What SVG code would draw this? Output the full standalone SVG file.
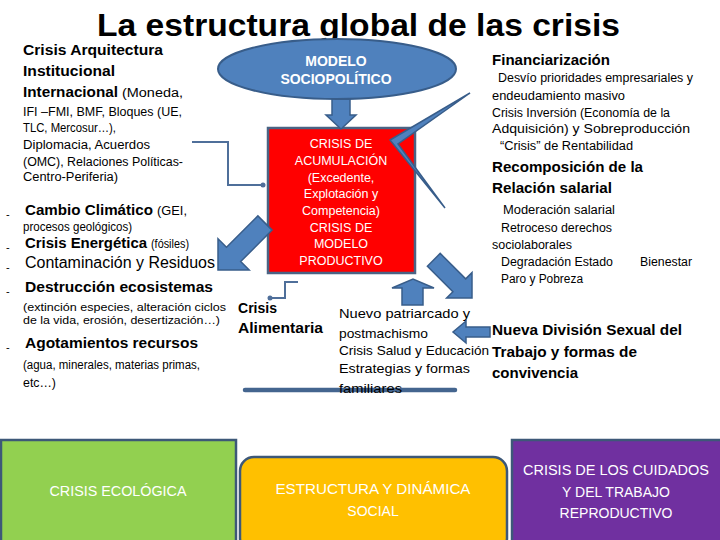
<svg xmlns="http://www.w3.org/2000/svg" width="720" height="540" viewBox="0 0 720 540">
<style>
text{font-family:"Liberation Sans",Arial,sans-serif;fill:#000}
.b{font-weight:bold}
.w{fill:#fff}
.s12{font-size:12px}
.s11{font-size:11px}
.s14{font-size:14px}
.s15{font-size:15px}
.blk{fill:#4f81bd;stroke:#385d8a;stroke-width:1.5}
.elb{fill:none;stroke:#4f6f9a;stroke-width:2}
.box{stroke:#3d5878;stroke-width:2.5}
</style>
<rect width="720" height="540" fill="#fff"/>
<g id="title">
<text x="97" y="36" class="b" font-size="31" textLength="523" lengthAdjust="spacingAndGlyphs">La estructura global de las crisis</text>
</g>
<g id="red-box">
<rect x="268" y="128" width="147" height="145" fill="#ff0000" stroke="#4a6384" stroke-width="2.5"/>
<g font-size="12.5" text-anchor="middle">
<text x="341" y="147.5" class="w">CRISIS DE</text>
<text x="341" y="164.5" class="w">ACUMULACIÓN</text>
<text x="341" y="181.5" class="w">(Excedente,</text>
<text x="341" y="197.5" class="w">Explotación y</text>
<text x="341" y="214.5" class="w">Competencia)</text>
<text x="341" y="231.5" class="w">CRISIS DE</text>
<text x="341" y="247.5" class="w">MODELO</text>
<text x="341" y="264.5" class="w">PRODUCTIVO</text>
</g>
</g>
<g id="connectors">
<polygon class="blk" points="332,96 350,96 350,115 356,115 341,129 326,115 332,115"/>
<polygon class="blk" points="257.9,215.9 226.5,247.3 218,238.8 218,270 249.2,270 240.7,261.5 272.1,230.1"/>
<polygon class="blk" points="470,93 390,140 445,208 398,144"/>
<polygon class="blk" points="427.4,266.2 452.9,291.7 446.6,298 472,298 472,272.6 465.7,278.9 440.2,253.4"/>
<polygon class="blk" points="402,305 402,288 392,288 413,279 434,288 423,288 423,305"/>
<polygon class="blk" points="490,327 466,327 466,321 453,332 466,343 466,337 490,337"/>
<path class="elb" d="M192,142 H228 V185 H262"/>
<circle cx="263" cy="185" r="2.5" fill="#4f6f9a"/>
<path class="elb" d="M298,282 H285 V298 H271"/>
<circle cx="270" cy="298" r="2.5" fill="#4f6f9a"/>
<line x1="245" y1="390" x2="455" y2="390" stroke="#44658f" stroke-width="4.5" stroke-linecap="round"/>
</g>
<g id="modelo-sociopolitico">
<ellipse cx="337" cy="69" rx="119" ry="30" fill="#4f81bd" stroke="#385d8a" stroke-width="2"/>
<text x="336" y="66" class="w b" font-size="14" text-anchor="middle">MODELO</text>
<text x="336" y="84" class="w b" font-size="14" text-anchor="middle">SOCIOPOLÍTICO</text>
</g>
<g id="left-institucional">
<text x="23" y="55" class="b s14" textLength="140" lengthAdjust="spacingAndGlyphs">Crisis Arquitectura</text>
<text x="23" y="76" class="b s14" textLength="92" lengthAdjust="spacingAndGlyphs">Institucional</text>
<text x="23" y="97" class="b s14" textLength="95" lengthAdjust="spacingAndGlyphs">Internacional</text>
<text x="122" y="97" class="s12" textLength="61" lengthAdjust="spacingAndGlyphs">(Moneda,</text>
<text x="23" y="116" class="s12" textLength="159" lengthAdjust="spacingAndGlyphs">IFI –FMI, BMF, Bloques (UE,</text>
<text x="23" y="132" class="s12" textLength="93" lengthAdjust="spacingAndGlyphs">TLC, Mercosur…),</text>
<text x="23" y="149" class="s12" textLength="127" lengthAdjust="spacingAndGlyphs">Diplomacia,  Acuerdos</text>
<text x="23" y="166" class="s12" textLength="160" lengthAdjust="spacingAndGlyphs">(OMC), Relaciones Políticas-</text>
<text x="23" y="181" class="s12" textLength="95" lengthAdjust="spacingAndGlyphs">Centro-Periferia)</text>
</g>
<g id="left-ecologica">
<text x="6" y="218" class="s11">-</text>
<text x="25" y="215" class="b s14" textLength="128" lengthAdjust="spacingAndGlyphs">Cambio Climático</text>
<text x="157" y="215" class="s12" textLength="30" lengthAdjust="spacingAndGlyphs">(GEI,</text>
<text x="23" y="231" class="s12" textLength="109" lengthAdjust="spacingAndGlyphs">procesos geológicos)</text>
<text x="6" y="251" class="s11">-</text>
<text x="25" y="248" class="b s14" textLength="122" lengthAdjust="spacingAndGlyphs">Crisis Energética</text>
<text x="151" y="248" class="s12" textLength="38" lengthAdjust="spacingAndGlyphs">(fósiles)</text>
<text x="6" y="271" class="s11">-</text>
<text x="25" y="268" font-size="16" textLength="190" lengthAdjust="spacingAndGlyphs">Contaminación y Residuos</text>
<text x="6" y="295" class="s11">-</text>
<text x="25" y="292" class="b s15" textLength="188" lengthAdjust="spacingAndGlyphs">Destrucción ecosistemas</text>
<text x="23" y="311" class="s11" textLength="203" lengthAdjust="spacingAndGlyphs">(extinción especies, alteración ciclos</text>
<text x="23" y="324" class="s11" textLength="197" lengthAdjust="spacingAndGlyphs">de la vida, erosión, desertización…)</text>
<text x="6" y="351" class="s11">-</text>
<text x="25" y="348" class="b s15" textLength="173" lengthAdjust="spacingAndGlyphs">Agotamientos recursos</text>
<text x="23" y="369" class="s12" textLength="177" lengthAdjust="spacingAndGlyphs">(agua, minerales, materias primas,</text>
<text x="23" y="387" class="s12" textLength="33" lengthAdjust="spacingAndGlyphs">etc…)</text>
</g>
<g id="crisis-alimentaria">
<text x="238" y="313" class="b s15" textLength="39" lengthAdjust="spacingAndGlyphs">Crisis</text>
<text x="238" y="333" class="b s15" textLength="85" lengthAdjust="spacingAndGlyphs">Alimentaria</text>
</g>
<g id="middle-social">
<text x="339" y="318" font-size="13.5" textLength="131" lengthAdjust="spacingAndGlyphs">Nuevo patriarcado y</text>
<text x="339" y="338" font-size="13.5" textLength="89" lengthAdjust="spacingAndGlyphs">postmachismo</text>
<text x="339" y="355" font-size="13.5" textLength="150" lengthAdjust="spacingAndGlyphs">Crisis Salud y Educación</text>
<text x="339" y="373" font-size="13.5" textLength="131" lengthAdjust="spacingAndGlyphs">Estrategias y formas</text>
<text x="339" y="393" font-size="13.5" textLength="63" lengthAdjust="spacingAndGlyphs">familiares</text>
</g>
<g id="right-financiarizacion">
<text x="492" y="65" class="b s14" textLength="118" lengthAdjust="spacingAndGlyphs">Financiarización</text>
<text x="498" y="82" class="s12" textLength="195" lengthAdjust="spacingAndGlyphs">Desvío prioridades empresariales y</text>
<text x="492" y="100" class="s12" textLength="133" lengthAdjust="spacingAndGlyphs">endeudamiento masivo</text>
<text x="492" y="117" class="s12" textLength="178" lengthAdjust="spacingAndGlyphs">Crisis Inversión (Economía de la</text>
<text x="492" y="133" class="s12" textLength="198" lengthAdjust="spacingAndGlyphs">Adquisición) y Sobreproducción</text>
<text x="500" y="150" class="s12" textLength="133" lengthAdjust="spacingAndGlyphs">“Crisis” de Rentabilidad</text>
</g>
<g id="right-salarial">
<text x="492" y="172" class="b s15" textLength="151" lengthAdjust="spacingAndGlyphs">Recomposición de la</text>
<text x="492" y="193" class="b s15" textLength="120" lengthAdjust="spacingAndGlyphs">Relación salarial</text>
<text x="503" y="214" class="s12" textLength="112" lengthAdjust="spacingAndGlyphs">Moderación salarial</text>
<text x="501" y="232" class="s12" textLength="111" lengthAdjust="spacingAndGlyphs">Retroceso derechos</text>
<text x="492" y="249" class="s12" textLength="80" lengthAdjust="spacingAndGlyphs">sociolaborales</text>
<text x="501" y="266" class="s12" textLength="112" lengthAdjust="spacingAndGlyphs">Degradación Estado</text>
<text x="640" y="266" class="s12" textLength="52" lengthAdjust="spacingAndGlyphs">Bienestar</text>
<text x="501" y="283" class="s12" textLength="82" lengthAdjust="spacingAndGlyphs">Paro y Pobreza</text>
</g>
<g id="right-division-sexual">
<text x="492" y="335" class="b s15" textLength="190" lengthAdjust="spacingAndGlyphs">Nueva División Sexual del</text>
<text x="492" y="357" class="b s15" textLength="145" lengthAdjust="spacingAndGlyphs">Trabajo y formas de</text>
<text x="492" y="378" class="b s15" textLength="86" lengthAdjust="spacingAndGlyphs">convivencia</text>
</g>
<g id="crisis-ecologica">
<rect x="1" y="440" width="235" height="105" fill="#92d050" class="box"/>
<text x="118" y="496" class="w s14" text-anchor="middle" textLength="137" lengthAdjust="spacingAndGlyphs">CRISIS ECOLÓGICA</text>
</g>
<g id="estructura-dinamica-social">
<rect x="240" y="457" width="267" height="95" rx="14" fill="#ffc000" class="box"/>
<text x="373" y="494" class="w s14" text-anchor="middle" textLength="195" lengthAdjust="spacingAndGlyphs">ESTRUCTURA Y DINÁMICA</text>
<text x="373" y="516" class="w s14" text-anchor="middle">SOCIAL</text>
</g>
<g id="crisis-cuidados">
<rect x="512" y="440" width="210" height="105" fill="#7030a0" class="box"/>
<text x="616" y="475" class="w s14" text-anchor="middle" textLength="186" lengthAdjust="spacingAndGlyphs">CRISIS DE LOS CUIDADOS</text>
<text x="616" y="497" class="w s14" text-anchor="middle">Y DEL TRABAJO</text>
<text x="616" y="518" class="w s14" text-anchor="middle">REPRODUCTIVO</text>
</g>
</svg>
